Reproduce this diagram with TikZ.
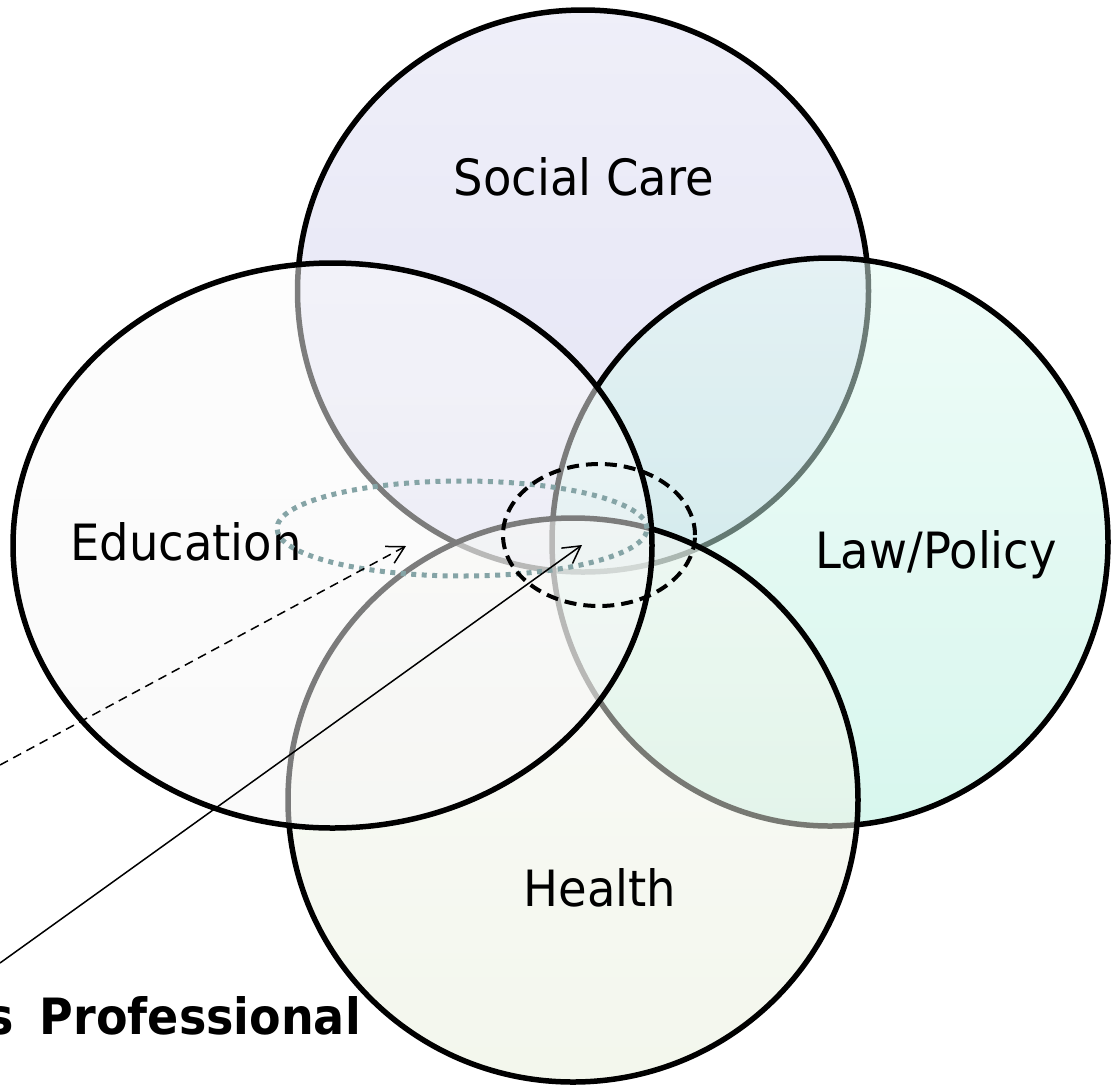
\documentclass[tikz,border=0pt]{standalone}
\usepackage{graphicx}
\usepackage{fontspec}
\setmainfont{DejaVu Sans}
\usetikzlibrary{shapes.geometric,arrows.meta}
\tikzset{
  field/.style={ellipse, draw=black, line width=5.5pt, inner sep=0pt, fill opacity=0.5},
  fieldlabel/.style={anchor=base, inner sep=0pt, font=\fontsize{50}{60}\selectfont},
  spanring/.style={ellipse, draw={rgb,255:red,133;green,164;blue,166}, line width=5pt,
                   dash pattern=on 5pt off 5.5pt, inner sep=0pt},
  corering/.style={ellipse, draw=black, line width=4pt, dash pattern=on 12pt off 7pt, inner sep=0pt},
  pointer/.style={line width=1.5pt, -{Straight Barb[length=17pt,width=19pt]}},
}
\newcommand{\narrowtxt}[1]{\scalebox{0.93}[1]{#1}}
\definecolor{scTop}{RGB}{223,223,243}
\definecolor{scBot}{RGB}{201,201,235}
\definecolor{lawTop}{RGB}{223,249,241}
\definecolor{lawBot}{RGB}{177,239,221}
\definecolor{heaTop}{RGB}{247,247,243}
\definecolor{heaBot}{RGB}{231,239,219}
\definecolor{eduTop}{RGB}{251,251,251}
\definecolor{eduBot}{RGB}{245,245,245}
\begin{document}
\begin{tikzpicture}[x=1pt,y=-1pt]
\useasboundingbox (0,0) rectangle (1111,1088);
% circles, bottom to top
\node[field, minimum width=571pt, minimum height=562pt, top color=scTop, bottom color=scBot] (social) at (583,291) {};
\node[field, minimum width=556pt, minimum height=568pt, top color=lawTop, bottom color=lawBot] (law) at (830,542) {};
\node[field, minimum width=570pt, minimum height=564pt, top color=heaTop, bottom color=heaBot] (health) at (573,800) {};
\node[field, minimum width=639pt, minimum height=565pt, top color=eduTop, bottom color=eduBot] (edu) at (332.5,545.5) {};
% labels
\node[fieldlabel] (socialtxt) at (584,195) {\narrowtxt{Social Care}};
\node[fieldlabel] (edutxt) at (186,560) {\narrowtxt{Education}};
\node[fieldlabel] (lawtxt) at (936,568) {\narrowtxt{Law/Policy}};
\node[fieldlabel] (healthtxt) at (600,906) {\narrowtxt{Health}};
\node[anchor=base east, inner sep=0pt, font=\bfseries\fontsize{50}{60}\selectfont] (prof) at (361,1034) {\scalebox{0.92}[1]{s\hspace{11pt} Professional}};
% rings
\node[spanring, minimum width=370pt, minimum height=95pt] (span) at (462,528.5) {};
\node[corering, minimum width=192pt, minimum height=142pt] (core) at (599,535) {};
% pointers
\coordinate (dashstart) at (0,765);
\coordinate (dashtip) at (406,546);
\coordinate (solidstart) at (0,963);
\coordinate (solidtip) at (582,545);
\draw[pointer, dash pattern=on 9pt off 6pt] (dashstart) -- (dashtip);
\draw[pointer] (solidstart) -- (solidtip);
\end{tikzpicture}
\end{document}
